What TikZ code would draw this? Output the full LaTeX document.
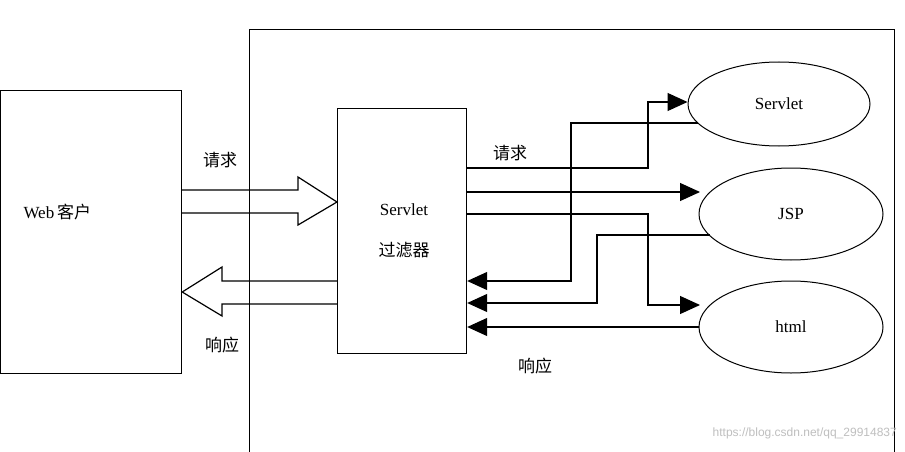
\documentclass[tikz,border=0pt]{standalone}
\usepackage{fontspec}
\setmainfont{Liberation Serif}
\newfontfamily\cjk{Noto Sans CJK SC}
\newfontfamily\wmfont{Liberation Sans}
\usetikzlibrary{arrows.meta,shapes.geometric}
\begin{document}
\begin{tikzpicture}[x=1pt,y=-1pt,
  ln/.style={draw=black,line width=1.2pt},
  tip/.style={ln,-{Triangle[length=20pt,width=18pt]}},
  ell/.style={draw=black,line width=1pt,ellipse,inner sep=0},
  txt/.style={font=\fontsize{17}{19}\selectfont},
  ctxt/.style={font=\cjk\fontsize{17}{19}\selectfont}]
\useasboundingbox (0,0) rectangle (905,452);
\fill[white] (0,0) rectangle (905,452);
% frame
\draw[line width=1pt] (249,452) -- (249,30) -- (894,30) -- (894,452);
% web client
\node[draw,line width=1.2pt,minimum width=181pt,minimum height=283pt,anchor=north west,inner sep=0] (web) at (0,90) {};
\node[txt,anchor=west] (webt) at (20,212) {Web\,{\cjk 客户}};
% filter
\node[draw,line width=1.2pt,minimum width=129pt,minimum height=245pt,anchor=north west,inner sep=0] (flt) at (337,108) {};
\node[txt] (fl1) at (404,210) {Servlet};
\node[ctxt] (fl2) at (404,250) {过滤器};
% ellipses
\node[ell,minimum width=182pt,minimum height=84pt] (sv) at (779,104) {};
\node[txt] at (sv) {Servlet};
\node[ell,minimum width=184pt,minimum height=92pt] (jsp) at (791,214) {};
\node[txt] at (jsp) {JSP};
\node[ell,minimum width=184pt,minimum height=92pt] (html) at (791,327) {};
\node[txt] at (html) {html};
% hollow arrows
\draw[ln] (web.east|-0,190) -- (298,190) -- (298,177) -- (flt.west|-0,202) -- (298,225) -- (298,213) -- (web.east|-0,213);
\draw[ln] (flt.west|-0,281) -- (222,281) -- (222,267) -- (web.east|-0,292) -- (222,316) -- (222,304) -- (flt.west|-0,304);
\node[ctxt] (q1) at (220,160) {请求};
\node[ctxt] (r1) at (222,345) {响应};
\node[ctxt] (q2) at (510,153) {请求};
\node[ctxt] (r2) at (535,366) {响应};
% coordinates
\coordinate (a1) at (flt.east|-0,168);
\coordinate (a2) at (flt.east|-0,192);
\coordinate (a3) at (flt.east|-0,214);
\coordinate (b1) at (flt.east|-0,281);
\coordinate (b2) at (flt.east|-0,303);
\coordinate (b3) at (flt.east|-0,327);
% requests
\draw[tip] (a1) -- (648,168) -- (648,102) -- (sv.west|-0,102);
\draw[tip] (a2) -- (700,192);
\draw[tip] (a3) -- (648,214) -- (648,305) -- (700,305);
% responses
\draw[tip] (698,123) -- (571,123) -- (571,281) -- (b1);
\draw[tip] (710,235) -- (597,235) -- (597,303) -- (b2);
\draw[tip] (html.west|-0,327) -- (b3);
\node[font=\wmfont\fontsize{12}{14}\selectfont,text=black!25,anchor=east,inner sep=0] (wm) at (897,433) {https://blog.csdn.net/qq\_29914837};
\end{tikzpicture}
\end{document}
